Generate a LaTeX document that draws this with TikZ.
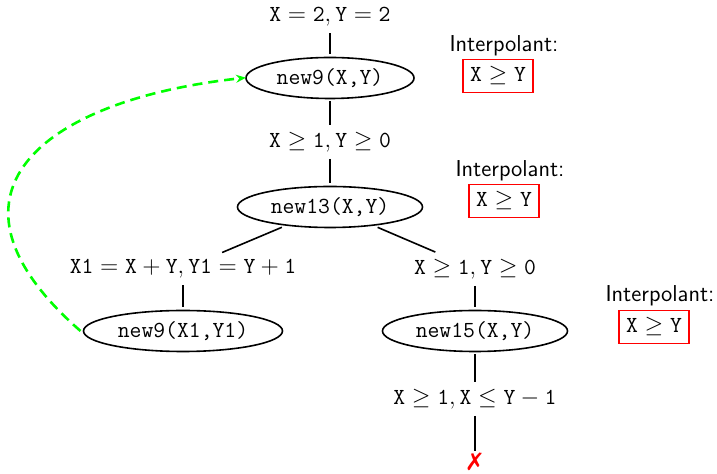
\documentclass[tikz,border=0pt]{standalone}
\usepackage{fontspec}
\newfontfamily\dejavu{DejaVu Sans}
\usetikzlibrary{shapes.geometric,arrows.meta}
\begin{document}
\begin{tikzpicture}[x=0.5pt,y=-0.5pt,
  every node/.style={font=\fontsize{11.5}{14}\selectfont},
  lab/.style={inner sep=3.3pt},
  st/.style={draw, ellipse, line width=0.8pt, inner sep=0pt, minimum height=20.5pt, outer sep=1.5pt},
  conn/.style={line width=0.8pt},
  ip/.style={font=\fontsize{11.5}{14}\selectfont\sffamily, inner sep=0pt},
  ipbox/.style={draw=red, line width=0.6pt, inner sep=0pt, minimum width=35pt, minimum height=16.5pt},
  back/.style={green, dash pattern=on 5pt off 3pt, line width=1.3pt, -{Stealth[length=5pt,width=4pt]}, shorten >=-1.5pt}
]
\useasboundingbox (0,0) rectangle (717,474);
\node[lab] (l0) at (330,17) {$\mathtt{X = 2, Y = 2}$};
\node[st, minimum width=84pt] (n9) at (330,78) {\texttt{new9(X,Y)}};
\node[lab] (l1) at (330,142) {$\mathtt{X \geq 1, Y \geq 0}$};
\node[st, minimum width=92.5pt] (n13) at (330,207) {\texttt{new13(X,Y)}};
\node[lab] (l2) at (183,269) {$\mathtt{X1 = X + Y, Y1 = Y + 1}$};
\node[lab] (l3) at (475,269) {$\mathtt{X \geq 1, Y \geq 0}$};
\node[st, minimum width=99.5pt] (n9b) at (183,331) {\texttt{new9(X1,Y1)}};
\node[st, minimum width=92.5pt] (n15) at (475,331) {\texttt{new15(X,Y)}};
\node[lab] (l4) at (475,399) {$\mathtt{X \geq 1, X \leq Y - 1}$};
\node[text=red, font=\fontsize{12}{14}\selectfont\dejavu, inner sep=1pt] (bad) at (475,462) {✗};

\draw[conn] (l0) -- (n9);
\draw[conn] (n9) -- (l1);
\draw[conn] (l1) -- (n13);
\draw[conn] (n13) -- (l2);
\draw[conn] (n13) -- (l3);
\draw[conn] (l2) -- (n9b);
\draw[conn] (l3) -- (n15);
\draw[conn] (n15) -- (l4);
\draw[conn] (l4) -- (bad);

\draw[back] (n9b.west) .. controls (-75,195) and (40,100) .. (n9.west);

\node[ip] (i1) at (504,46) {Interpolant:};
\node[ipbox] (b1) at (498,76) {$\mathtt{X \geq Y}$};
\node[ip] (i2) at (510,171) {Interpolant:};
\node[ipbox] (b2) at (504,201) {$\mathtt{X \geq Y}$};
\node[ip] (i3) at (660,296) {Interpolant:};
\node[ipbox] (b3) at (654,327) {$\mathtt{X \geq Y}$};
\end{tikzpicture}
\end{document}
